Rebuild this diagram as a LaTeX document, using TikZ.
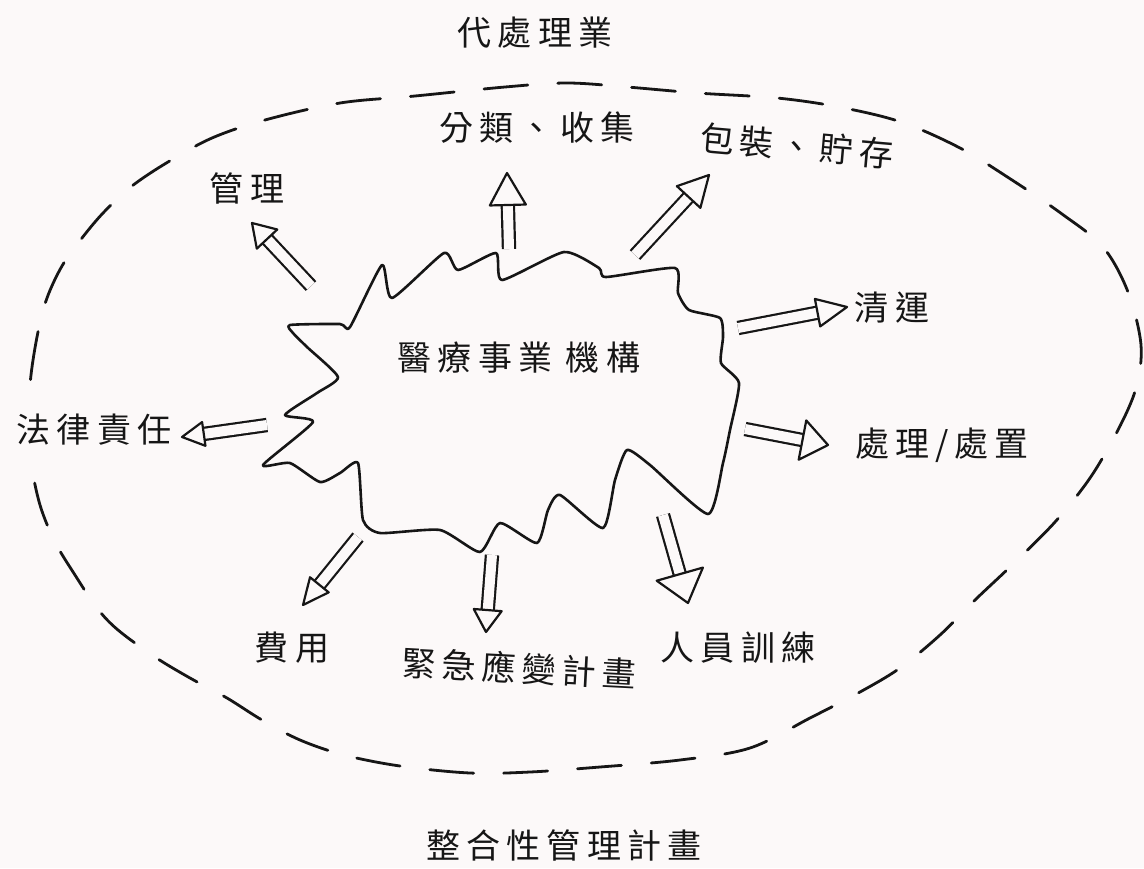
\documentclass[tikz,border=0pt]{standalone}
\usepackage{fontspec}
\newfontfamily\cjkfont[LetterSpace=18]{Noto Sans CJK TC}
\usetikzlibrary{calc}
\definecolor{paper}{RGB}{252,249,249}
\definecolor{ink}{RGB}{22,22,22}
\newcommand\dblarrow[4]{%
  \path ($(#2)!#3!(#1)$) coordinate (hb);
  \path ($(hb)!#4!90:(#2)$) coordinate (hl) ($(hb)!#4!-90:(#2)$) coordinate (hr);
  \draw[shaft] (#1) -- (hb);
  \draw[headtri] (#2) -- (hl) -- (hr) -- cycle;
}
\tikzset{
  lbl/.style={inner sep=0pt, text=ink, font=\cjkfont\fontsize{17pt}{19pt}\selectfont},
  blobline/.style={draw=ink, line width=1.3pt},
  ring/.style={draw=ink, line width=1.4pt, dash pattern=on 22pt off 15pt},
  shaft/.style={draw=ink, line width=1.1pt, double=paper, double distance=5pt, line cap=butt},
  headtri/.style={draw=ink, line width=1.1pt, fill=paper}
}
\begin{document}
\begin{tikzpicture}[x=0.5pt, y=-0.5pt, line join=round, line cap=round]
\fill[paper] (0,0) rectangle (1144,868);
\useasboundingbox (0,0) rectangle (1144,868);

% dashed outer boundary
\draw[ring] plot[smooth cycle, tension=0.55] coordinates {
 (28,420) (31,375) (38,332) (47,298) (62,266) (82,238) (104,212) (132,186)
 (168,162) (212,138) (265,120) (340,103) (415,96) (505,87) (567,83) (627,87)
 (697,93) (777,98) (839,107) (901,122) (960,148) (1012,180) (1062,214) (1103,247)
 (1128,292) (1141,345) (1136,388) (1118,430) (1090,478) (1055,522) (1012,565)
 (975,600) (940,635) (900,668) (860,692) (810,718) (750,748) (680,760) (600,767)
 (530,772) (470,773) (400,766) (344,755) (300,740) (262,720) (227,698) (190,678)
 (155,657) (118,630) (97,608) (75,575) (55,542) (40,505) (31,462)
};

% central blob
\draw[blobline] plot[smooth cycle, tension=0.35] coordinates {
 (290,325) (340,324) (350,327) (382,265) (392,298) (444,253) (458,270) (496,253)
 (502,280) (564,252) (599,268) (606,277) (675,268) (678,293) (689,310) (720,318)
 (723,337) (721,363) (739,383) (730,430) (723,463) (708,514) (650,465) (627,450)
 (615,480) (603,528) (560,495) (548,510) (537,543) (500,523) (480,552) (440,530)
 (380,533) (363,520) (358,463) (340,473) (320,482) (290,463) (263,465) (313,422)
 (285,415) (317,393) (338,377) (307,347) (293,333)
};

% labels
\node[lbl] (top)    at (535,33)  {代處理業};
\node[lbl] (center) at (519,358) {醫療事業 機構};
\node[lbl] (sort)   at (537,128) {分類、收集};
\node[lbl, rotate=-5] (pack) at (797,146) {包裝、貯存};
\node[lbl] (mgmt)   at (247,188) {管理};
\node[lbl] (clear)  at (892,308) {清運};
\node[lbl, fill=paper, inner xsep=3pt, inner ysep=6pt] (legal) at (94,430) {法律責任};
\node[lbl] (treat)  at (942,445) {處理/處置};
\node[lbl] (cost)   at (292,648) {費用};
\node[lbl, rotate=-3] (emerg) at (519,668) {緊急應變計畫};
\node[lbl] (train)  at (738,648) {人員訓練};
\node[lbl] (plan)   at (564,845) {整合性管理計畫};

% arrow anchors
\coordinate (s1) at (311,286); \coordinate (t1) at (252,223);
\coordinate (s2) at (509,249); \coordinate (t2) at (507,173);
\coordinate (s3) at (635,255); \coordinate (t3) at (709,175);
\coordinate (s4) at (738,328); \coordinate (t4) at (847,307);
\coordinate (s5) at (745,429); \coordinate (t5) at (828,445);
\coordinate (s6) at (267,425); \coordinate (t6) at (182,437);
\coordinate (s7) at (358,537); \coordinate (t7) at (303,605);
\coordinate (s8) at (492,555); \coordinate (t8) at (486,632);
\coordinate (s9) at (663,515); \coordinate (t9) at (688,603);

\dblarrow{s1}{t1}{11pt}{7pt}
\dblarrow{s2}{t2}{16pt}{9pt}
\dblarrow{s3}{t3}{15pt}{8pt}
\dblarrow{s4}{t4}{15pt}{7pt}
\dblarrow{s5}{t5}{13pt}{10pt}
\dblarrow{s6}{t6}{11pt}{6pt}
\dblarrow{s7}{t7}{13pt}{6pt}
\dblarrow{s8}{t8}{11pt}{7pt}
\dblarrow{s9}{t9}{15pt}{12pt}
\end{tikzpicture}
\end{document}
